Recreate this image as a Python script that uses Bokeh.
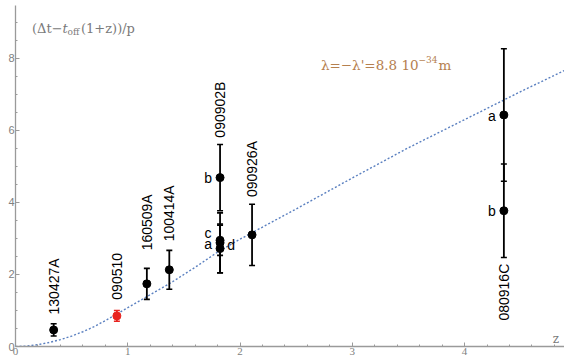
import numpy as np
from bokeh.plotting import figure
from bokeh.models import Range1d, FixedTicker, ColumnDataSource
from bokeh.core.properties import value
from bokeh.embed import file_html
from bokeh.resources import INLINE

# ---- data ----
pt_grb = ["130427A", "090510", "160509A", "100414A", "090902B", "090902B",
          "090902B", "090902B", "090926A", "080916C", "080916C"]
pt_tag = ["", "", "", "", "a", "b", "c", "d", "", "a", "b"]
pt_z = [0.34, 0.903, 1.17, 1.37, 1.822, 1.822, 1.822, 1.822, 2.107, 4.35, 4.35]
pt_y = [0.46, 0.85, 1.74, 2.13, 2.88, 4.69, 2.95, 2.72, 3.10, 6.43, 3.77]
pt_err = [0.17, 0.15, 0.43, 0.54, 0.83, 0.92, 0.42, 0.68, 0.85, 1.84, 1.30]
pt_red = [False, True, False, False, False, False, False, False, False, False, False]

grb_names = ["130427A", "090510", "160509A", "100414A", "090902B", "090926A", "080916C"]
grb_z = [0.34, 0.903, 1.17, 1.37, 1.822, 2.107, 4.35]
grb_label_y = [0.89, 1.30, 2.67, 2.92, 5.80, 4.15, 0.72]

curve_z = [0, 0.1, 0.2, 0.3, 0.4, 0.5, 0.6, 0.7, 0.8, 0.9, 1.0, 1.2, 1.4, 1.6,
           1.8, 2.0, 2.5, 3.0, 3.5, 4.0, 4.5, 4.9]
curve_y = [0, 0.01, 0.05, 0.11, 0.19, 0.29, 0.41, 0.55, 0.72, 0.90, 1.08, 1.44,
           1.80, 2.20, 2.62, 2.98, 3.82, 4.68, 5.52, 6.30, 7.08, 7.68]

x_ticks = [0, 1, 2, 3, 4]
y_ticks = [0, 2, 4, 6, 8]

# ---- figure ----
W, H = 564, 358
p = figure(width=W, height=H, output_backend="svg", toolbar_location=None,
           x_range=Range1d(0, 4.89), y_range=Range1d(0, 9.47),
           min_border_left=15, min_border_right=0, min_border_top=5,
           min_border_bottom=12)
p.grid.visible = False
p.outline_line_color = None
p.background_fill_color = "white"
p.border_fill_color = "white"

gray = "#9a9a9a"
for ax in (p.xaxis[0], p.yaxis[0]):
    ax.axis_line_color = gray
    ax.axis_line_width = 1.3
    ax.major_tick_line_color = gray
    ax.minor_tick_line_color = gray
    ax.major_tick_in = 4
    ax.major_tick_out = 0
    ax.minor_tick_in = 2
    ax.minor_tick_out = 0
    ax.major_label_text_color = "#808080"
    ax.major_label_text_font_size = "11px"
    ax.major_label_standoff = 1

p.xaxis[0].ticker = FixedTicker(ticks=x_ticks,
                                minor_ticks=[i * 0.2 for i in range(0, 25)])
p.yaxis[0].ticker = FixedTicker(ticks=y_ticks,
                                minor_ticks=[i * 0.5 for i in range(0, 19)])
p.xaxis[0].major_label_text_font = "Liberation Serif"
p.yaxis[0].major_label_text_font = "Liberation Sans"

# curve
p.line(curve_z, curve_y, line_color="#5b80c0", line_width=1.4, line_dash="2 2")

# error bars and points
colors = ["#e8231f" if r else "black" for r in pt_red]
src = ColumnDataSource(dict(
    z=pt_z, y=pt_y,
    lo=[y - e for y, e in zip(pt_y, pt_err)],
    hi=[y + e for y, e in zip(pt_y, pt_err)],
    color=colors, tag=pt_tag))
p.segment(x0="z", y0="lo", x1="z", y1="hi", line_color="color", line_width=1.8,
          source=src)
p.scatter(x="z", y="lo", marker="dash", size=6, line_color="color",
          line_width=1.6, source=src)
p.scatter(x="z", y="hi", marker="dash", size=6, line_color="color",
          line_width=1.6, source=src)
p.scatter(x="z", y="y", size=8, fill_color="color", line_color="color", source=src)

# letter tags
tag_dx = {"a": -12, "b": -12, "c": -12, "d": 11}
tag_dy = {"a": 1, "b": 0, "c": -7, "d": -4}
tz, ty, tt, tox, toy = [], [], [], [], []
for z, y, t, g in zip(pt_z, pt_y, pt_tag, pt_grb):
    if t:
        tz.append(z); ty.append(y); tt.append(t)
        tox.append(tag_dx[t]); toy.append(tag_dy[t])
p.text(x=tz, y=ty, text=tt, x_offset=tox, y_offset=toy,
       text_font=value("Liberation Sans"), text_font_size="14px",
       text_align="center", text_baseline="middle", text_color="black")

# GRB names (rotated)
p.text(x=grb_z, y=grb_label_y, text=grb_names, angle=np.pi / 2,
       text_font=value("Liberation Sans"), text_font_size="14px",
       text_align="left", text_baseline="middle", text_color="black")

# ---- helper to place annotation text by pixel ----
x0px, y0px = 15.5, 346.0
sx, sy = 112.3, 36.0
def dx(px):
    return (px - x0px) / sx
def dy(py):
    return (y0px - py) / sy

def txt(px, py, s, size, color, font="DejaVu Serif", style="normal"):
    p.text(x=[dx(px)], y=[dy(py)], text=[s], text_font=value(font),
           text_font_size=size, text_color=color, text_align="left",
           text_baseline="alphabetic", text_font_style=style)

# y axis label: (Δt−t_off(1+z))/p
lab_col = "#7a7a7a"
txt(32, 28, "(Δt−", "13px", lab_col)
txt(62.5, 28, "t", "13px", lab_col, style="italic")
txt(67.5, 31.5, "off", "9px", lab_col)
txt(81, 28, "(1+z))/p", "13px", lab_col)

# lambda annotation
lam_col = "#b5804f"
txt(321, 65, "λ=−λ'=8.8 10", "13.5px", lam_col)
txt(418.5, 59, "−34", "9px", lam_col)
txt(438.5, 65, "m", "13.5px", lam_col)

# x axis variable
txt(553, 339, "z", "12px", "#7a7a7a")

open("out.html", "w").write(file_html(p, INLINE))
